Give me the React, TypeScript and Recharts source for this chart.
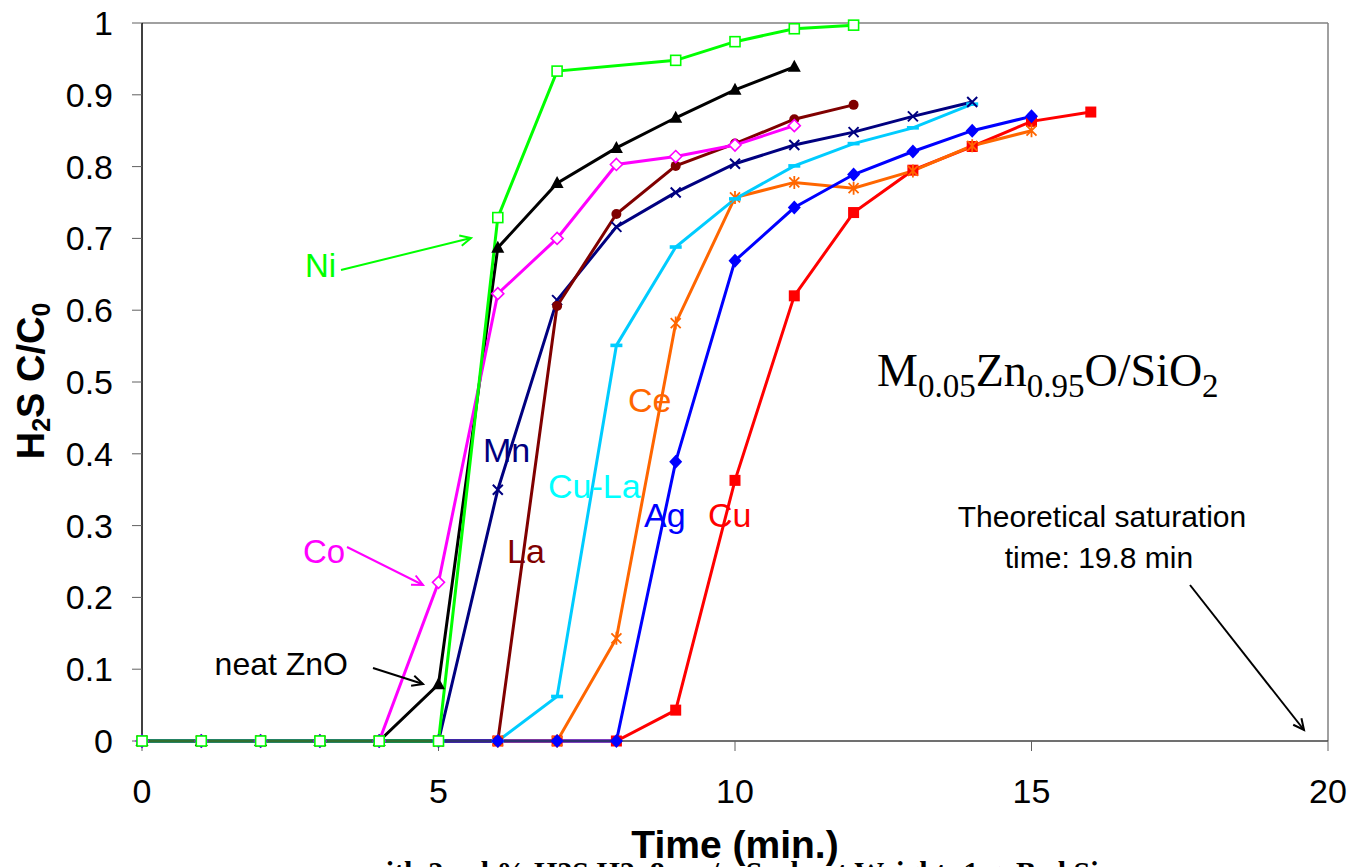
import { LineChart, Line, XAxis, YAxis, ReferenceLine } from 'recharts';

// breakthrough curves, H2S C/C0 vs time (min)
const niTime = [0, 1, 2, 3, 4, 5, 6, 7, 9, 10, 11, 12];
const niValues = [0, 0, 0, 0, 0, 0, 0.729, 0.933, 0.948, 0.974, 0.992, 0.997];

const znoTime = [0, 1, 2, 3, 4, 5, 6, 7, 8, 9, 10, 11];
const znoValues = [0, 0, 0, 0, 0, 0.079, 0.687, 0.777, 0.826, 0.868, 0.907, 0.939];

const coTime = [0, 1, 2, 3, 4, 5, 6, 7, 8, 9, 10, 11];
const coValues = [0, 0, 0, 0, 0, 0.221, 0.623, 0.7, 0.803, 0.814, 0.83, 0.857];

const mnTime = [0, 1, 2, 3, 4, 5, 6, 7, 8, 9, 10, 11, 12, 13, 14];
const mnValues = [0, 0, 0, 0, 0, 0, 0.35, 0.614, 0.716, 0.764, 0.804, 0.83, 0.848, 0.87, 0.89];

const laTime = [0, 1, 2, 3, 4, 5, 6, 7, 8, 9, 10, 11, 12];
const laValues = [0, 0, 0, 0, 0, 0, 0, 0.606, 0.734, 0.801, 0.832, 0.866, 0.886];

const cuLaTime = [0, 1, 2, 3, 4, 5, 6, 7, 8, 9, 10, 11, 12, 13, 14];
const cuLaValues = [0, 0, 0, 0, 0, 0, 0, 0.062, 0.551, 0.688, 0.755, 0.801, 0.832, 0.854, 0.887];

const ceTime = [0, 1, 2, 3, 4, 5, 6, 7, 8, 9, 10, 11, 12, 13, 14, 15];
const ceValues = [0, 0, 0, 0, 0, 0, 0, 0, 0.143, 0.582, 0.757, 0.778, 0.77, 0.794, 0.829, 0.85];

const agTime = [0, 1, 2, 3, 4, 5, 6, 7, 8, 9, 10, 11, 12, 13, 14, 15];
const agValues = [0, 0, 0, 0, 0, 0, 0, 0, 0, 0.389, 0.669, 0.743, 0.789, 0.821, 0.85, 0.87];

const cuTime = [0, 1, 2, 3, 4, 5, 6, 7, 8, 9, 10, 11, 12, 13, 14, 15, 16];
const cuValues = [0, 0, 0, 0, 0, 0, 0, 0, 0, 0.043, 0.363, 0.62, 0.736, 0.795, 0.828, 0.863, 0.876];

const xTicks = [0, 5, 10, 15, 20];
const yTicks = [0, 0.1, 0.2, 0.3, 0.4, 0.5, 0.6, 0.7, 0.8, 0.9, 1];

const SANS = '"Liberation Sans", Arial, sans-serif';
const SERIF = '"Liberation Serif", "Times New Roman", serif';

const toPoints = (time: number[], values: number[]) =>
  time.map((t, i) => ({ t, v: values[i] }));

type Shape = 'square' | 'squareOpen' | 'triangle' | 'diamond' | 'diamondOpen' | 'circle' | 'cross' | 'dash' | 'star';

function makeDot(shape: Shape, color: string, name: string) {
  return (props: any) => {
    const { cx, cy, index } = props;
    const k = `${name}-${index}`;
    if (cx == null || cy == null) return <g key={k} />;
    switch (shape) {
      case 'squareOpen':
        return <rect key={k} x={cx - 5} y={cy - 5} width={10} height={10} fill="#fff" stroke={color} strokeWidth={1.6} />;
      case 'square':
        return <rect key={k} x={cx - 5.5} y={cy - 5.5} width={11} height={11} fill={color} />;
      case 'triangle':
        return <path key={k} d={`M${cx},${cy - 7} L${cx + 6.5},${cy + 5} L${cx - 6.5},${cy + 5} Z`} fill={color} />;
      case 'diamond':
        return <path key={k} d={`M${cx},${cy - 7} L${cx + 6.5},${cy} L${cx},${cy + 7} L${cx - 6.5},${cy} Z`} fill={color} />;
      case 'diamondOpen':
        return <path key={k} d={`M${cx},${cy - 6} L${cx + 6},${cy} L${cx},${cy + 6} L${cx - 6},${cy} Z`} fill="#fff" stroke={color} strokeWidth={1.6} />;
      case 'circle':
        return <circle key={k} cx={cx} cy={cy} r={5} fill={color} />;
      case 'cross':
        return (
          <path key={k} d={`M${cx - 5},${cy - 5} L${cx + 5},${cy + 5} M${cx - 5},${cy + 5} L${cx + 5},${cy - 5}`} stroke={color} strokeWidth={2} />
        );
      case 'dash':
        return <rect key={k} x={cx - 6} y={cy - 1.8} width={12} height={3.6} fill={color} />;
      case 'star':
        return (
          <path
            key={k}
            d={`M${cx - 5},${cy - 5} L${cx + 5},${cy + 5} M${cx - 5},${cy + 5} L${cx + 5},${cy - 5} M${cx},${cy - 6.5} L${cx},${cy + 6.5}`}
            stroke={color}
            strokeWidth={1.8}
          />
        );
      default:
        return <g key={k} />;
    }
  };
}

const series = [
  { name: 'Cu', color: '#FF0000', shape: 'square' as Shape, data: toPoints(cuTime, cuValues) },
  { name: 'Ce', color: '#FF6600', shape: 'star' as Shape, data: toPoints(ceTime, ceValues) },
  { name: 'Cu-La', color: '#00CCFF', shape: 'dash' as Shape, data: toPoints(cuLaTime, cuLaValues) },
  { name: 'Mn', color: '#000080', shape: 'cross' as Shape, data: toPoints(mnTime, mnValues) },
  { name: 'La', color: '#800000', shape: 'circle' as Shape, data: toPoints(laTime, laValues) },
  { name: 'neat ZnO', color: '#000000', shape: 'triangle' as Shape, data: toPoints(znoTime, znoValues) },
  { name: 'Co', color: '#FF00FF', shape: 'diamondOpen' as Shape, data: toPoints(coTime, coValues) },
  { name: 'Ag', color: '#0000FF', shape: 'diamond' as Shape, data: toPoints(agTime, agValues) },
  { name: 'Ni', color: '#00FF00', shape: 'squareOpen' as Shape, data: toPoints(niTime, niValues) },
];

function Arrow({ x1, y1, x2, y2, color }: { x1: number; y1: number; x2: number; y2: number; color: string }) {
  const a = Math.atan2(y2 - y1, x2 - x1);
  const len = 12;
  const spread = 0.45;
  const ax = x2 - len * Math.cos(a - spread);
  const ay = y2 - len * Math.sin(a - spread);
  const bx = x2 - len * Math.cos(a + spread);
  const by = y2 - len * Math.sin(a + spread);
  return (
    <g stroke={color} strokeWidth={2} fill="none">
      <line x1={x1} y1={y1} x2={x2} y2={y2} />
      <polyline points={`${ax},${ay} ${x2},${y2} ${bx},${by}`} />
    </g>
  );
}

const yTickFmt = (v: number) => (v === 0 ? '0' : v === 1 ? '1' : v.toFixed(1));

export default function App() {
  return (
    <div style={{ position: 'absolute', left: 0, top: 0, width: 1352, height: 867, overflow: 'hidden', background: '#fff' }}>
      <LineChart width={1352} height={867} margin={{ top: 23, right: 24, bottom: 0, left: 0 }}>
        <XAxis
          dataKey="t"
          type="number"
          domain={[0, 20]}
          ticks={xTicks}
          interval={0}
          height={126}
          tickSize={10}
          tickMargin={28}
          axisLine={{ stroke: '#404040', strokeWidth: 1.5 }}
          tickLine={{ stroke: '#606060' }}
          tick={{ fontSize: 34, fill: '#000', fontFamily: SANS }}
        />
        <YAxis
          type="number"
          domain={[0, 1]}
          ticks={yTicks}
          interval={0}
          width={142}
          tickSize={10}
          tickMargin={19}
          tickFormatter={yTickFmt}
          axisLine={{ stroke: '#000', strokeWidth: 1.5 }}
          tickLine={{ stroke: '#606060' }}
          tick={{ fontSize: 34, fill: '#000', fontFamily: SANS }}
        />
        <ReferenceLine y={1} stroke="#808080" strokeWidth={1.5} />
        <ReferenceLine x={20} stroke="#808080" strokeWidth={1.5} />
        {series.map((s) => (
          <Line
            key={s.name}
            data={s.data}
            dataKey="v"
            name={s.name}
            stroke={s.color}
            strokeWidth={3}
            dot={makeDot(s.shape, s.color, s.name)}
            activeDot={false}
            isAnimationActive={false}
          />
        ))}
      </LineChart>

      <svg width={1352} height={867} style={{ position: 'absolute', left: 0, top: 0, pointerEvents: 'none' }}>
        {/* axis titles */}
        <text x={44} y={381} transform="rotate(-90 44 381)" textAnchor="middle" fontFamily={SANS} fontWeight="bold" fontSize={38} fill="#000">
          H<tspan fontSize={25} dy={6}>2</tspan>
          <tspan dy={-6}>S C/C</tspan>
          <tspan fontSize={25} dy={6}>0</tspan>
        </text>
        <text x={735} y={858} textAnchor="middle" fontFamily={SANS} fontWeight="bold" fontSize={39} fill="#000">
          Time (min.)
        </text>
        {/* caption line below the chart, only its top edge shows in the frame */}
        <text x={364} y={882} fontFamily={SERIF} fontWeight="bold" fontSize={30} fill="#000">
          with 2 vol.% H2S H2, 8 cm/s, Sorbent Weight: 1 g, Bed Size
        </text>

        {/* series labels */}
        <text x={305} y={277} fontFamily={SANS} fontSize={33} fill="#00FF00">Ni</text>
        <text x={303} y={563} fontFamily={SANS} fontSize={33} fill="#FF00FF">Co</text>
        <text x={348} y={675} textAnchor="end" fontFamily={SANS} fontSize={32} fill="#000">neat ZnO</text>
        <text x={483} y={462} fontFamily={SANS} fontSize={34} fill="#000080">Mn</text>
        <text x={507} y={563} fontFamily={SANS} fontSize={34} fill="#800000">La</text>
        <text x={548} y={498} fontFamily={SANS} fontSize={34} fill="#00FFFF">Cu-La</text>
        <text x={628} y={412} fontFamily={SANS} fontSize={34} fill="#FF6600">Ce</text>
        <text x={644} y={527} fontFamily={SANS} fontSize={34} fill="#0000FF">Ag</text>
        <text x={708} y={527} fontFamily={SANS} fontSize={34} fill="#FF0000">Cu</text>

        <Arrow x1={341} y1={270} x2={471} y2={238} color="#00FF00" />
        <Arrow x1={347} y1={547} x2={423} y2={585} color="#FF00FF" />
        <Arrow x1={373} y1={668} x2={423} y2={684} color="#000000" />
        <Arrow x1={1190} y1={585} x2={1304} y2={730} color="#000000" />

        {/* sorbent formula */}
        <text x={877} y={386} fontFamily={SERIF} fontSize={46} fill="#000">
          M<tspan fontSize={33} dy={11}>0.05</tspan>
          <tspan dy={-11}>Zn</tspan>
          <tspan fontSize={33} dy={11}>0.95</tspan>
          <tspan dy={-11}>O/SiO</tspan>
          <tspan fontSize={33} dy={11}>2</tspan>
        </text>

        <text x={1102} y={527} textAnchor="middle" fontFamily={SANS} fontSize={30} fill="#000">Theoretical saturation</text>
        <text x={1099} y={568} textAnchor="middle" fontFamily={SANS} fontSize={30} fill="#000">time: 19.8 min</text>
      </svg>
    </div>
  );
}
